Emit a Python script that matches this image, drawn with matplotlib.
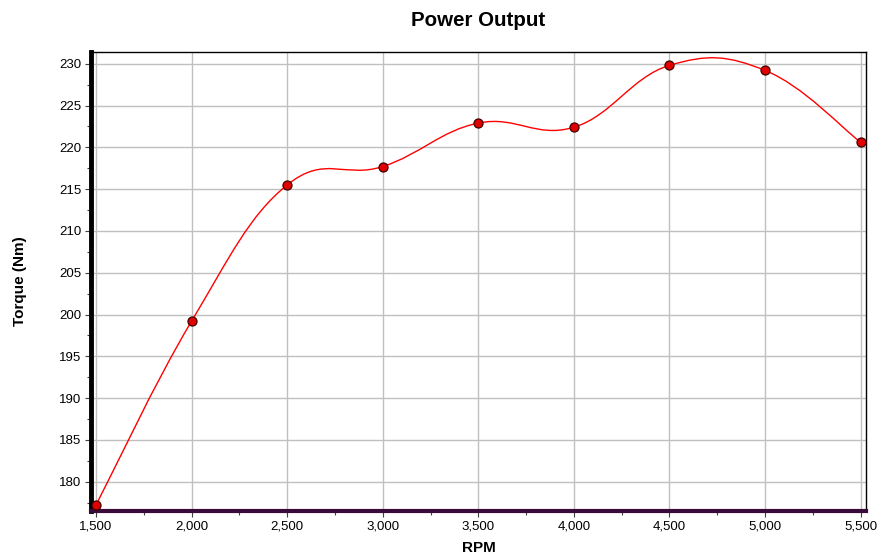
import numpy as np
import matplotlib.pyplot as plt
from matplotlib.path import Path
from matplotlib.patches import PathPatch
from matplotlib.ticker import MultipleLocator, FuncFormatter

plt.rcParams['font.family'] = ['Liberation Sans', 'DejaVu Sans']

# readings
rpm = [1500, 2000, 2500, 3000, 3500, 4000, 4500, 5000, 5500]
torque = [177.2, 199.2, 215.5, 217.7, 222.9, 222.4, 229.8, 229.2, 220.6]

line_col = '#ff0000'
tension = 0.2


def smooth_path(xs, ys, k):
    # cardinal spline through the points, drawn as cubic bezier segments
    pts = np.column_stack([xs, ys]).astype(float)
    verts = [pts[0]]
    codes = [Path.MOVETO]
    n = len(pts)
    for i in range(n - 1):
        p0 = pts[max(i - 1, 0)]
        p1 = pts[i]
        p2 = pts[i + 1]
        p3 = pts[min(i + 2, n - 1)]
        c1 = p1 + (p2 - p0) * k
        c2 = p2 - (p3 - p1) * k
        verts += [c1, c2, p2]
        codes += [Path.CURVE4] * 3
    return Path(verts, codes)


fig = plt.figure(figsize=(8.84, 5.59), dpi=100)
ax = fig.add_axes([91 / 884, 1 - 511 / 559, (866 - 91) / 884, (511 - 52) / 559])

ax.add_patch(PathPatch(smooth_path(rpm, torque, tension), facecolor='none',
                       edgecolor=line_col, lw=1.0, zorder=3))
ax.plot(rpm, torque, linestyle='none', marker='o', markersize=6.5,
        markerfacecolor='#e00000', markeredgecolor='#400000',
        markeredgewidth=0.9, zorder=4, clip_on=False)

ax.set_xlim(1474, 5528)
ax.set_ylim(176.5, 231.4)

ax.xaxis.set_major_locator(MultipleLocator(500))
ax.xaxis.set_minor_locator(MultipleLocator(250))
ax.yaxis.set_major_locator(MultipleLocator(5))
ax.yaxis.set_minor_locator(MultipleLocator(2.5))
ax.xaxis.set_major_formatter(FuncFormatter(lambda v, p: f'{int(v):,}'))

ax.grid(True, which='major', color='#c0c0c0', lw=1.0)
ax.set_axisbelow(True)

ax.tick_params(axis='both', which='major', labelsize=9.5, length=4,
               width=0.8, color='#404040', direction='out', pad=3)
ax.tick_params(axis='both', which='minor', length=3, width=0.8,
               color='#404040', direction='out')

for side in ['top', 'right']:
    ax.spines[side].set_linewidth(1.0)
    ax.spines[side].set_color('black')
ax.spines['left'].set_linewidth(3.5)
ax.spines['left'].set_color('black')
ax.spines['bottom'].set_linewidth(3.0)
ax.spines['bottom'].set_color('#3a0a3a')

ax.set_title('Power Output', fontsize=14.8, fontweight='bold', pad=19)
ax.set_xlabel('RPM', fontsize=11, fontweight='bold', labelpad=6)
ax.set_ylabel('Torque (Nm)', fontsize=11, fontweight='bold', labelpad=23)

fig.savefig('out.png', dpi=100)
